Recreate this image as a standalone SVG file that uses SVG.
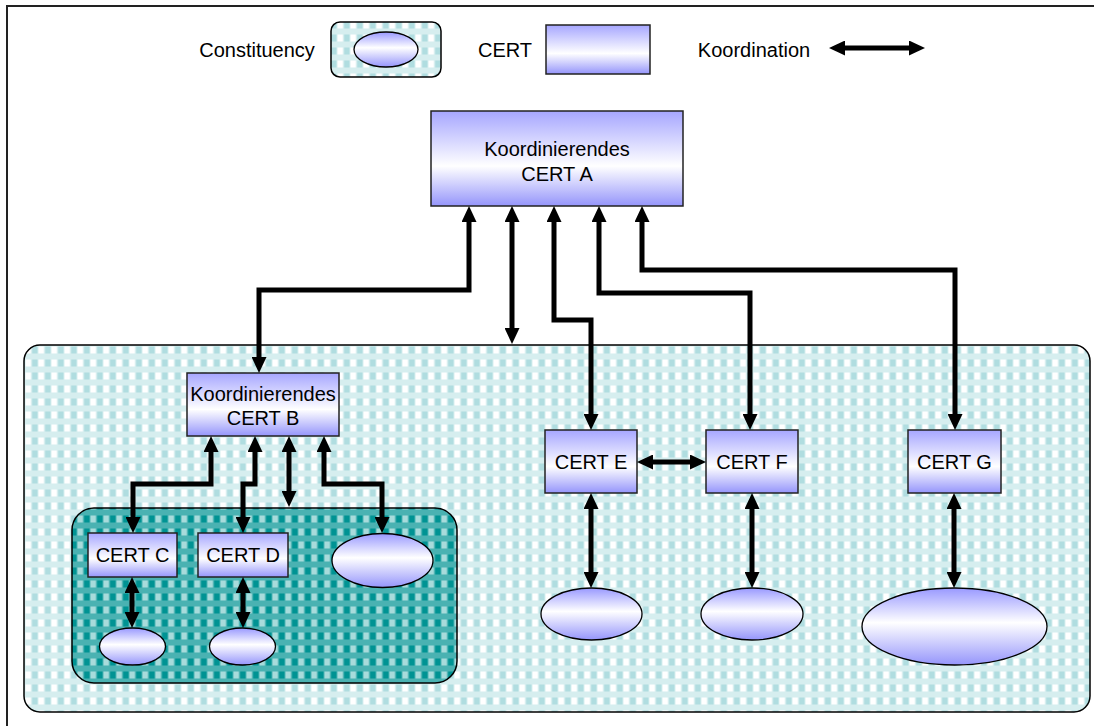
<svg xmlns="http://www.w3.org/2000/svg" width="1094" height="726" viewBox="0 0 1094 726">
<defs>
<pattern id="pLight" width="13" height="13" patternUnits="userSpaceOnUse" x="31.5" y="472">
<rect width="13" height="13" fill="#d6eeef"/>
<rect x="0.5" y="4.5" width="5.5" height="7" fill="#b0dde0"/>
<rect x="7" y="4.5" width="5.5" height="7" fill="#ffffff"/>
</pattern>
<pattern id="pDark" width="13" height="13" patternUnits="userSpaceOnUse" x="31.5" y="472">
<rect width="13" height="13" fill="#4ab2b2"/>
<rect x="0.5" y="4.5" width="5.5" height="7" fill="#009393"/>
<rect x="7" y="4.5" width="5.5" height="7" fill="#a8dbdb"/>
</pattern>
<linearGradient id="gRect" x1="0" y1="0" x2="0" y2="1">
<stop offset="0" stop-color="#a6a6ff"/>
<stop offset="0.58" stop-color="#ffffff"/>
<stop offset="1" stop-color="#9595fb"/>
</linearGradient>
<linearGradient id="gEll" x1="0" y1="0" x2="0" y2="1">
<stop offset="0" stop-color="#9999ff"/>
<stop offset="0.45" stop-color="#ffffff"/>
<stop offset="1" stop-color="#9595fb"/>
</linearGradient>
<marker id="ah" viewBox="0 0 16 15" refX="6" refY="7.5" markerWidth="16" markerHeight="15" markerUnits="userSpaceOnUse" orient="auto-start-reverse">
<path d="M0,0 L16,7.5 L0,15 z" fill="#000"/>
</marker>
</defs>
<style>
.cert{fill:url(#gRect);stroke:#222;stroke-width:1.5}
.ell{fill:url(#gEll);stroke:#000;stroke-width:1.3}
.t{font-family:"Liberation Sans",Arial,sans-serif;font-size:20px;fill:#000;text-anchor:middle}
.c{fill:none;stroke:#000;stroke-width:5;stroke-linejoin:miter;marker-start:url(#ah);marker-end:url(#ah)}
.zone{stroke:#000;stroke-width:1.5}
</style>
<rect x="0" y="0" width="1094" height="726" fill="#fff"/>
<rect x="7" y="6" width="1100" height="740" fill="none" stroke="#222" stroke-width="2"/>

<g id="legend">
<text class="t" x="257" y="57">Constituency</text>
<rect x="331" y="22" width="110" height="55" rx="9" fill="url(#pLight)" class="zone"/>
<ellipse cx="386" cy="49.5" rx="32" ry="17.5" class="ell"/>
<text class="t" x="505" y="57">CERT</text>
<rect x="546" y="25" width="104" height="49" class="cert"/>
<text class="t" x="754" y="57">Koordination</text>
<path class="c" d="M839,48 H915"/>
</g>

<g id="zone-outer"><rect x="24" y="345" width="1066" height="367" rx="16" fill="url(#pLight)" class="zone"/></g>
<g id="zone-inner"><rect x="72" y="508" width="385" height="175" rx="22" fill="url(#pDark)" class="zone"/></g>

<g id="certA">
<rect x="431" y="111" width="252" height="95" class="cert"/>
<text class="t" x="557" y="156">Koordinierendes</text>
<text class="t" x="557" y="181">CERT A</text>
</g>
<g id="certB">
<rect x="187" y="373" width="152" height="63" class="cert"/>
<text class="t" x="263" y="401">Koordinierendes</text>
<text class="t" x="263" y="425">CERT B</text>
</g>
<g id="certC"><rect x="88" y="533" width="89" height="44" class="cert"/><text class="t" x="132.5" y="562">CERT C</text></g>
<g id="certD"><rect x="198" y="533" width="90" height="44" class="cert"/><text class="t" x="243" y="562">CERT D</text></g>
<g id="certE"><rect x="545" y="430" width="92" height="63" class="cert"/><text class="t" x="591" y="469">CERT E</text></g>
<g id="certF"><rect x="706" y="430" width="92" height="63" class="cert"/><text class="t" x="752" y="469">CERT F</text></g>
<g id="certG"><rect x="908" y="430" width="93" height="63" class="cert"/><text class="t" x="954.5" y="469">CERT G</text></g>

<g id="constB"><ellipse cx="382.5" cy="560.5" rx="50.5" ry="27" class="ell"/></g>
<g id="constC"><ellipse cx="132.5" cy="646.5" rx="33" ry="18.5" class="ell"/></g>
<g id="constD"><ellipse cx="242.5" cy="646.5" rx="33" ry="18.5" class="ell"/></g>
<g id="constE"><ellipse cx="591.5" cy="614" rx="50.5" ry="26" class="ell"/></g>
<g id="constF"><ellipse cx="752" cy="614" rx="51" ry="26" class="ell"/></g>
<g id="constG"><ellipse cx="954.5" cy="626.5" rx="92.5" ry="38.5" class="ell"/></g>

<g id="connectors">
<path class="c" d="M469,216 V290 H259 V363"/>
<path class="c" d="M512,216 V334"/>
<path class="c" d="M554,216 V320 H591 V420"/>
<path class="c" d="M599,216 V293 H750 V420"/>
<path class="c" d="M642,216 V270 H955 V420"/>
<path class="c" d="M211,446 V484 H133 V523"/>
<path class="c" d="M255,446 V484 H243 V523"/>
<path class="c" d="M289,446 V497"/>
<path class="c" d="M324,446 V484 H382 V523"/>
<path class="c" d="M132,587 V618"/>
<path class="c" d="M243,587 V618"/>
<path class="c" d="M591,503 V578"/>
<path class="c" d="M752,503 V578"/>
<path class="c" d="M954,503 V578"/>
<path class="c" d="M647,462 H696"/>
</g>
</svg>
